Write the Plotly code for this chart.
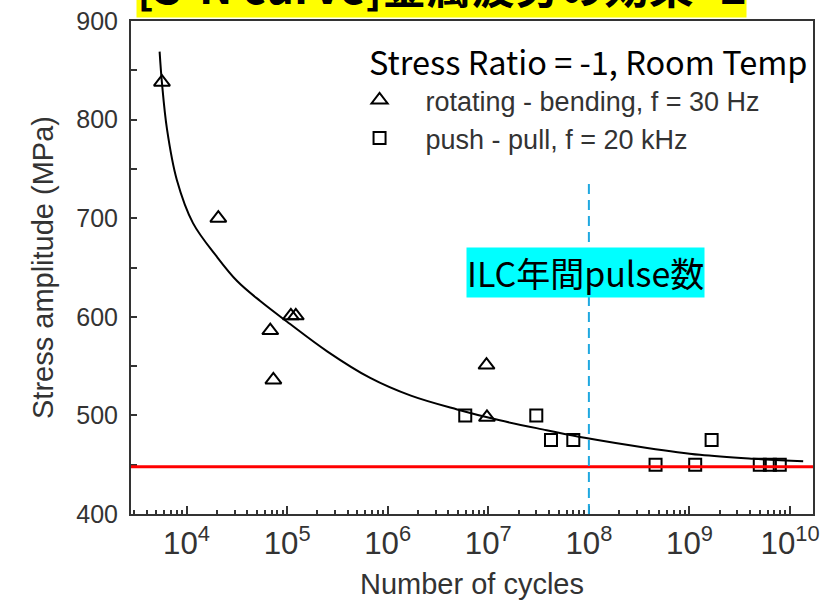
import plotly.graph_objects as go

# Fatigue test results (cycles to failure, stress amplitude in MPa)
rb_cycles = [5.7e3, 2.07e4, 6.8e4, 7.3e4, 1.09e5, 1.22e5, 9.6e6, 9.7e6]
rb_stress = [838, 700, 586, 536, 601, 601, 551, 498]

pp_cycles = [5.9e6, 3.0e7, 4.2e7, 7.0e7, 4.6e8, 1.14e9, 1.66e9, 5.0e9, 6.3e9, 7.9e9]
pp_stress = [500, 500, 475, 475, 450, 450, 475, 450, 450, 450]

# Fitted S-N curve
fit_cycles = [5.4e3, 5.7e3, 6.4e3, 8.0e3, 1.16e4, 2.0e4, 3.2e4, 5.4e4, 1.0e5, 2.5e5,
              6.7e5, 1.7e6, 4.9e6, 1.3e7, 3.8e7, 9.4e7, 3.8e8, 1.27e9, 4.3e9, 1.35e10]
fit_stress = [869, 837, 790, 739, 695, 661, 636, 616, 595, 565,
              538, 520, 506, 495, 485, 477, 467, 460, 456, 453.5]

fatigue_limit = 448          # MPa
ilc_pulses = 1e8             # pulses per year
ilc_marker_top = 736         # MPa

x_range = [3.448, 10.228]    # log10(cycles)
y_range = [400, 900]
y_ticks = [400, 500, 600, 700, 800, 900]

axis_color = "#333333"
tick_font = dict(family="Liberation Sans, Arial", size=25, color="#333333")

fig = go.Figure()

fig.add_trace(go.Scatter(
    x=fit_cycles, y=fit_stress, mode="lines", line=dict(color="black", width=2),
    line_shape="spline", showlegend=False, hoverinfo="skip"))

fig.add_trace(go.Scatter(
    x=rb_cycles, y=rb_stress, mode="markers", name="rotating - bending, f = 30 Hz",
    marker=dict(symbol="triangle-up-open", size=14, color="black", line=dict(width=2))))

fig.add_trace(go.Scatter(
    x=pp_cycles, y=pp_stress, mode="markers", name="push - pull, f = 20 kHz",
    marker=dict(symbol="square-open", size=12, color="black", line=dict(width=2))))

fig.add_shape(type="line", xref="paper", x0=0, x1=1, yref="y",
              y0=fatigue_limit, y1=fatigue_limit, line=dict(color="red", width=3))
fig.add_shape(type="line", xref="x", x0=ilc_pulses, x1=ilc_pulses, yref="y",
              y0=y_range[0], y1=ilc_marker_top,
              line=dict(color="#1fa8e0", width=2, dash="10px,6px"))

fig.add_annotation(x=8, y=645, xref="x", yref="y", xshift=-3, text="ILC年間pulse数",
                   showarrow=False, bgcolor="#00ffff", borderpad=0,
                   font=dict(family="Noto Sans CJK JP", size=34, color="black"))

fig.add_annotation(x=1.0, y=0.919, xref="paper", yref="paper", xanchor="right",
                   yanchor="middle", xshift=-3, text="Stress Ratio = -1, Room Temp",
                   showarrow=False,
                   font=dict(family="Noto Sans CJK JP", size=32.5, color="black"))

fig.add_annotation(x=0.0073, y=1.0061, xref="paper", yref="paper", xanchor="left",
                   yanchor="bottom", text="<b>[S-N curve]金属疲労の効果 -2</b>",
                   showarrow=False, bgcolor="#ffff00", borderpad=0,
                   font=dict(family="Noto Sans CJK JP", size=44.5, color="black"))

fig.update_layout(
    width=825, height=602,
    margin=dict(l=131, r=12, t=21, b=87.5),
    paper_bgcolor="white", plot_bgcolor="white",
    showlegend=True,
    legend=dict(x=0.297, y=0.8886, xanchor="left", yanchor="top",
                font=dict(family="Liberation Sans, Arial", size=27, color="#333333"),
                bgcolor="rgba(0,0,0,0)", itemwidth=82),
    xaxis=dict(type="log", range=x_range, dtick=1, exponentformat="power",
               automargin=False,
               showline=True, linecolor=axis_color, linewidth=2, mirror=True,
               ticks="inside", ticklen=8, tickcolor=axis_color, tickwidth=1.5,
               minor=dict(ticks="inside", ticklen=4, tickcolor=axis_color, tickwidth=1.5),
               showgrid=False, zeroline=False, tickfont=tick_font, ticklabelstandoff=2,
               title=dict(text="Number of cycles", standoff=13,
                          font=dict(family="Liberation Sans, Arial", size=29, color="#333333"))),
    yaxis=dict(range=y_range, tickvals=y_ticks, automargin=False,
               showline=True, linecolor=axis_color, linewidth=2, mirror=True,
               ticks="inside", ticklen=6, tickcolor=axis_color, tickwidth=1.5,
               minor=dict(dtick=50, ticks="inside", ticklen=6, tickcolor=axis_color, tickwidth=1.5),
               showgrid=False, zeroline=False, tickfont=tick_font, ticklabelstandoff=6,
               title=dict(text="Stress amplitude (MPa)", standoff=14,
                          font=dict(family="Liberation Sans, Arial", size=29, color="#333333"))),
)

fig.write_html("out.html")
